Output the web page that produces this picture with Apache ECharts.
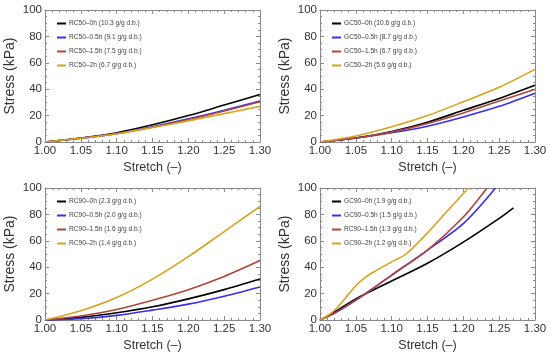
<!DOCTYPE html>
<html><head><meta charset="utf-8">
<script src="https://cdn.jsdelivr.net/npm/echarts@6/dist/echarts.min.js"></script>
<style>html,body{margin:0;padding:0;background:#fff}#c{width:550px;height:358px}</style>
</head><body><div id="c"></div>
<script>
// ---- data ----
const stretch = [1.00, 1.05, 1.10, 1.15, 1.20, 1.25, 1.30];

const rc50Names = ['RC50–0h (10.3 g/g d.b.)', 'RC50–0.5h (9.1 g/g d.b.)', 'RC50–1.5h (7.5 g/g d.b.)', 'RC50–2h (6.7 g/g d.b.)'];
const rc50_0h  = [0, 3.0, 7.0, 13.0, 20.0, 28.0, 36.0];
const rc50_05h = [0, 2.8, 6.5, 11.5, 17.5, 24.0, 31.0];
const rc50_15h = [0, 2.8, 6.3, 11.2, 17.0, 23.5, 30.5];
const rc50_2h  = [0, 2.8, 6.2, 11.0, 16.0, 21.5, 27.0];

const gc50Names = ['GC50–0h (10.6 g/g d.b.)', 'GC50–0.5h (8.7 g/g d.b.)', 'GC50–1.5h (6.7 g/g d.b.)', 'GC50–2h (5.6 g/g d.b.)'];
const gc50_0h  = [0, 3.0, 8.0, 15.0, 24.0, 33.0, 43.0];
const gc50_05h = [0, 3.0, 7.0, 12.0, 19.0, 27.0, 37.0];
const gc50_15h = [0, 3.0, 7.5, 14.0, 22.0, 31.0, 40.0];
const gc50_2h  = [0, 4.5, 11.5, 20.0, 30.5, 41.5, 55.0];

const rc90Names = ['RC90–0h (2.3 g/g d.b.)', 'RC90–0.5h (2.0 g/g d.b.)', 'RC90–1.5h (1.6 g/g d.b.)', 'RC90–2h (1.4 g/g d.b.)'];
const rc90_0h  = [0, 2.0, 5.5, 10.0, 16.0, 23.0, 31.0];
const rc90_05h = [0, 1.0, 3.5, 7.5, 12.0, 18.0, 25.0];
const rc90_15h = [0, 3.0, 8.0, 15.0, 23.0, 33.0, 45.0];
const rc90_2h  = [0, 7.0, 17.0, 31.0, 48.0, 67.0, 86.0];

const gc90Names = ['GC90–0h (1.9 g/g d.b.)', 'GC90–0.5h (1.5 g/g d.b.)', 'RC90–1.5h (1.3 g/g d.b.)', 'GC90–2h (1.2 g/g d.b.)'];
const gc90_0h_x  = [1.00, 1.02, 1.05, 1.10, 1.15, 1.20, 1.25, 1.27];
const gc90_0h    = [0, 6, 16, 29.5, 43, 59, 77, 85];
const gc90_05h_x = [1.00, 1.02, 1.05, 1.10, 1.15, 1.20, 1.245];
const gc90_05h   = [0, 5, 15, 34, 53, 73, 100];
const gc90_15h_x = [1.00, 1.02, 1.05, 1.10, 1.15, 1.20, 1.233];
const gc90_15h   = [0, 5, 15, 34, 53, 78, 100];
const gc90_2h_x  = [1.00, 1.015, 1.025, 1.05, 1.065, 1.08, 1.10, 1.12, 1.15, 1.175, 1.207];
const gc90_2h    = [0, 5, 10, 26, 33, 38, 44, 50, 66, 81, 100];

const xTicks = [1.00, 1.05, 1.10, 1.15, 1.20, 1.25, 1.30];
const yTicks = [0, 20, 40, 60, 80, 100];

const colors = ['#000000', '#3a2cf0', '#b0453a', '#d6a31c'];

// ---- layout ----
const panels = [
  {left: 45, top: 10, names: rc50Names, xs: [stretch, stretch, stretch, stretch], ys: [rc50_0h, rc50_05h, rc50_15h, rc50_2h]},
  {left: 320, top: 10, names: gc50Names, xs: [stretch, stretch, stretch, stretch], ys: [gc50_0h, gc50_05h, gc50_15h, gc50_2h]},
  {left: 45, top: 188, names: rc90Names, xs: [stretch, stretch, stretch, stretch], ys: [rc90_0h, rc90_05h, rc90_15h, rc90_2h]},
  {left: 320, top: 188, names: gc90Names, xs: [gc90_0h_x, gc90_05h_x, gc90_15h_x, gc90_2h_x], ys: [gc90_0h, gc90_05h, gc90_15h, gc90_2h]}
];
const W = 215, H = 132;
const frame = '#8a8a8a';
const font = 'Liberation Sans';

const grid = [], xAxis = [], yAxis = [], series = [], legend = [];
panels.forEach((p, i) => {
  grid.push({left: p.left, top: p.top, width: W, height: H, show: false});
  const tickCommon = {inside: true, length: 4, lineStyle: {color: frame}};
  const minorCommon = {show: true, length: 2, lineStyle: {color: frame}};
  xAxis.push({
    type: 'value', gridIndex: i, min: 1.0, max: 1.3, interval: 0.05,
    axisLine: {show: true, onZero: false, lineStyle: {color: frame}},
    axisTick: tickCommon, minorTick: Object.assign({splitNumber: 5}, minorCommon),
    splitLine: {show: false},
    axisLabel: {color: '#333', fontFamily: font, fontSize: 11.5, margin: 3,
      formatter: v => xTicks.some(t => Math.abs(t - v) < 1e-6) ? v.toFixed(2) : ''},
    name: 'Stretch (–)', nameLocation: 'middle', nameGap: 19,
    nameTextStyle: {color: '#333', fontFamily: font, fontSize: 12.5}
  });
  xAxis.push({
    type: 'value', gridIndex: i, min: 1.0, max: 1.3, interval: 0.05, position: 'top',
    axisLine: {show: true, onZero: false, lineStyle: {color: frame}},
    axisTick: tickCommon, minorTick: Object.assign({splitNumber: 5}, minorCommon),
    splitLine: {show: false}, axisLabel: {show: false}
  });
  yAxis.push({
    type: 'value', gridIndex: i, min: 0, max: 100, interval: 20,
    axisLine: {show: true, onZero: false, lineStyle: {color: frame}},
    axisTick: tickCommon, minorTick: Object.assign({splitNumber: 4}, minorCommon),
    splitLine: {show: false},
    axisLabel: {color: '#333', fontFamily: font, fontSize: 11.5, margin: 3,
      formatter: v => yTicks.indexOf(v) >= 0 ? String(v) : ''},
    name: 'Stress (kPa)', nameLocation: 'middle', nameGap: 28,
    nameTextStyle: {color: '#333', fontFamily: font, fontSize: 14}
  });
  yAxis.push({
    type: 'value', gridIndex: i, min: 0, max: 100, interval: 20, position: 'right',
    axisLine: {show: true, onZero: false, lineStyle: {color: frame}},
    axisTick: tickCommon, minorTick: Object.assign({splitNumber: 4}, minorCommon),
    splitLine: {show: false}, axisLabel: {show: false}
  });
  p.names.forEach((nm, k) => {
    series.push({
      type: 'line', name: nm, xAxisIndex: 2 * i, yAxisIndex: 2 * i,
      data: p.xs[k].map((x, j) => [x, p.ys[k][j]]),
      smooth: 0.3, showSymbol: false, clip: true,
      lineStyle: {color: colors[k], width: 1.6}, itemStyle: {color: colors[k]},
      z: 3 + k
    });
  });
  legend.push({
    data: p.names, orient: 'vertical', left: p.left + 12, top: p.top + 9,
    icon: 'rect', itemWidth: 9, itemHeight: 2, itemGap: 5,
    textStyle: {color: '#444', fontFamily: font, fontSize: 6.6, lineHeight: 9, padding: [0, 0, 0, -2]},
    padding: 0, selectedMode: false
  });
});

const chart = echarts.init(document.getElementById('c'), null, {renderer: 'canvas'});
chart.setOption({
  backgroundColor: '#fff', animation: false,
  grid, xAxis, yAxis, series, legend
});
</script>
</body></html>
